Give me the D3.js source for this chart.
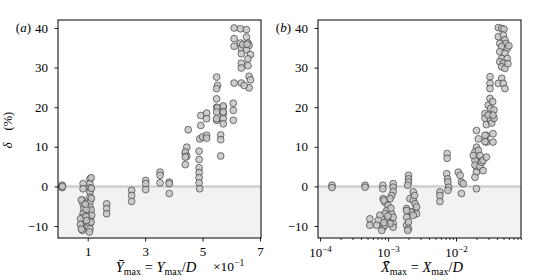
<!DOCTYPE html>
<html><head><meta charset="utf-8">
<script src="https://cdn.jsdelivr.net/npm/d3@7/dist/d3.min.js"></script>
<style>
html,body{margin:0;padding:0;background:#fff;}
svg text{font-family:"Liberation Serif","DejaVu Serif",serif;fill:#000;}
</style></head>
<body>
<svg id="chart" width="533" height="280"></svg>
<script>
// ---- data: panel (a)  Ybar_max vs delta (%)
const ybarA = [
 0.011,0.011,0.012,
 0.084,0.084,0.082,0.084,0.086,0.084,0.084,0.082,0.080,0.082,
 0.075,0.075,0.078,0.078,
 0.108,0.108,0.108,0.108,0.108,0.108,0.108,0.106,0.108,0.108,0.108,0.106,
 0.112,0.113,0.113,0.112,0.114,0.112,
 0.095,0.094,0.096,0.092,
 0.166,0.166,0.166,
 0.253,0.253,0.253,
 0.302,0.302,0.302,
 0.352,0.352,0.352,
 0.384,0.384,0.384,
 0.440,0.445,0.440,0.445,0.440,0.450,0.440,
 0.488,0.488,0.488,0.488,0.488,0.488,0.490,0.494,0.494,0.490,
 0.500,
 0.514,0.514,0.514,0.514,
 0.549,0.552,0.549,0.549,0.549,0.552,0.549,0.549,0.549,
 0.563,0.563,0.563,
 0.572,0.572,0.572,0.572,0.572,0.572,
 0.607,0.607,0.607,
 0.610,0.632,0.653,0.653,0.610,0.632,0.658,0.662,0.610,0.635,0.653,0.635,0.667,0.658,0.635,0.658,0.635,0.662,0.667,0.610,0.635,0.662,0.640,0.655,0.645
];
const deltaA = [
 0.3,-0.3,0.0,
 0.7,-0.6,-3.5,-4.4,-5.6,-6.9,-7.8,-9.4,-10.3,-11.1,
 -8.2,-9.6,-3.4,-10.8,
 1.9,0.7,-0.4,-1.4,-2.7,-4.0,-5.2,-6.5,-8.2,-9.4,-10.7,-11.5,
 2.2,-0.5,-3.0,-6.0,-7.3,-9.0,
 -5.8,-7.6,-8.6,-4.5,
 -4.4,-5.6,-6.9,
 -1.0,-2.3,-3.8,
 1.5,0.7,-0.8,
 3.6,2.8,0.9,
 1.1,0.7,-1.8,
 8.3,9.9,8.7,7.6,5.5,14.3,7.4,
 8.9,6.8,4.7,3.5,2.2,0.9,-0.6,15.4,17.9,12.0,
 12.5,
 12.9,12.2,18.5,17.1,
 27.6,25.5,24.7,22.1,20.0,19.8,18.8,16.7,17.1,
 13.0,11.8,7.7,
 20.0,18.4,17.1,15.8,20.3,18.8,
 21.0,19.2,16.7,
 40.0,39.8,39.6,37.7,37.3,36.2,36.2,35.6,35.4,34.8,34.5,33.5,33.3,32.2,31.1,30.5,29.9,27.8,26.9,26.1,26.1,24.9,35.8,35.9,25.5
];
// ---- data: panel (b)  Xbar_max vs delta (%)
const xbarB = [
 1.5e-4,1.5e-4,
 4.6e-4,4.6e-4,
 8.4e-4,8.4e-4,
 1.19e-3,1.19e-3,1.19e-3,1.13e-3,1.07e-3,8.5e-4,9.0e-4,1.0e-3,9.6e-4,9.0e-4,1.13e-3,
 1.19e-3,1.19e-3,1.19e-3,9.6e-4,7.6e-4,7.2e-4,6.8e-4,8.5e-4,8.1e-4,5.4e-4,5.4e-4,1.07e-3,9.0e-4,
 8.7e-4,1.1e-3,1.0e-3,8.7e-4,
 2.0e-3,2.0e-3,2.0e-3,1.95e-3,
 2.1e-3,2.35e-3,2.5e-3,2.5e-3,2.63e-3,2.63e-3,2.2e-3,
 1.88e-3,1.88e-3,1.88e-3,1.88e-3,2.0e-3,2.0e-3,1.95e-3,2.35e-3,2.35e-3,2.45e-3,
 5.8e-3,5.8e-3,5.8e-3,
 7.4e-3,7.4e-3,7.3e-3,7.5e-3,7.6e-3,7.8e-3,7.6e-3,
 1.08e-2,1.15e-2,1.2e-2,1.2e-2,1.28e-2,
 2.0e-2,2.0e-2,2.0e-2,2.0e-2,2.0e-2,2.0e-2,
 1.9e-2,1.9e-2,1.9e-2,1.9e-2,
 2.13e-2,2.13e-2,1.8e-2,2.25e-2,2.25e-2,2.4e-2,2.5e-2,2.5e-2,
 2.8e-2,2.8e-2,2.8e-2,3.5e-2,3.5e-2,
 2.67e-2,2.67e-2,2.67e-2,2.67e-2,2.8e-2,2.98e-2,2.98e-2,
 3.16e-2,3.16e-2,3.16e-2,3.16e-2,3.24e-2,3.24e-2,3.35e-2,3.46e-2,3.62e-2,3.62e-2,3.5e-2,
 0.042,0.047,0.0508,0.042,0.0496,0.0525,0.044,0.054,0.047,0.0567,0.044,0.0525,0.047,0.0567,0.044,0.0496,0.047,0.0525,0.047,0.042,0.0496,0.0525,0.060,0.058
];
const deltaB = [
 0.3,-0.3,
 0.3,-0.2,
 0.3,-0.6,
 0.7,-0.2,-1.3,-2.3,-3.1,-3.1,-4.0,-4.8,-6.1,-6.9,-6.9,
 -7.8,-9.4,-10.3,-8.6,-7.3,-8.6,-9.8,-10.3,-11.1,-8.2,-9.8,-9.4,-9.8,
 -3.5,-5.5,-7.5,-9.2,
 2.8,1.9,1.1,0.3,
 -3.1,-3.5,-4.4,-6.1,-5.2,-6.9,-6.5,
 -5.6,-6.1,-7.8,-9.8,-9.0,-10.7,-11.1,-7.3,-1.4,-2.3,
 -1.4,-2.3,-3.8,
 8.3,7.1,3.2,1.9,1.1,-0.2,-1.0,
 3.6,2.8,1.1,-1.8,0.7,
 14.1,9.9,7.4,4.9,3.6,-0.6,
 8.7,6.6,2.3,5.4,
 12.0,9.1,7.8,7.8,5.0,6.1,4.0,6.6,
 12.9,11.2,7.4,13.3,11.2,
 18.4,17.2,12.9,11.3,15.6,20.5,18.0,
 22.2,27.7,26.0,24.7,19.7,16.7,16.0,21.4,19.3,17.2,18.0,
 40.1,39.9,39.7,37.8,38.2,37.0,36.1,36.1,35.3,34.8,34.0,33.6,32.3,32.3,31.5,31.1,30.2,29.8,27.3,26.0,26.0,24.7,35.5,31.0
];
const yTicks = [-10, 0, 10, 20, 30, 40];
const xTicksA = [0.1, 0.3, 0.5, 0.7];
const xTickLabelsA = ["1", "3", "5", "7"];
const xTicksB = [1e-4, 1e-3, 1e-2];
const xTickExpB = ["−4", "−3", "−2"];

// ---- layout
const svg = d3.select("#chart");
const plotTop = 20, plotBottom = 238;
const panels = [
  {x0: 58, x1: 261, tag: "a"},
  {x0: 318, x1: 521, tag: "b"}
];
const y = d3.scaleLinear().domain([-13.03, 42.02]).range([plotBottom, plotTop]);
const xA = d3.scaleLinear().domain([-0.0034, 0.7035]).range([panels[0].x0, panels[0].x1]);
const xB = d3.scaleLog().domain([Math.pow(10, -4.03), Math.pow(10, -1.044)]).range([panels[1].x0, panels[1].x1]);
const fmtY = d => d < 0 ? "−" + Math.abs(d) : String(d);

function drawPanel(p, x, xs, ds) {
  const g = svg.append("g");
  const w = p.x1 - p.x0;
  g.append("rect").attr("x", p.x0).attr("y", y(0)).attr("width", w).attr("height", plotBottom - y(0))
    .attr("fill", "#f2f2f2");
  g.append("line").attr("x1", p.x0).attr("x2", p.x1).attr("y1", y(0)).attr("y2", y(0))
    .attr("stroke", "#cfcfcf").attr("stroke-width", 2.5);
  const pts = xs.map((v, i) => [v, ds[i]]);
  g.append("g").selectAll("circle").data(pts).join("circle")
    .attr("cx", d => x(d[0])).attr("cy", d => y(d[1])).attr("r", 3.4)
    .attr("fill", "#c6c6c6").attr("fill-opacity", 0.85)
    .attr("stroke", "#2e2e2e").attr("stroke-width", 0.75).attr("stroke-opacity", 0.85);
  g.append("rect").attr("x", p.x0).attr("y", plotTop).attr("width", w).attr("height", plotBottom - plotTop)
    .attr("fill", "none").attr("stroke", "#000").attr("stroke-width", 1);
  const ya = g.append("g").attr("transform", `translate(${p.x0},0)`)
    .call(d3.axisLeft(y).tickValues(yTicks).tickSize(3.5).tickPadding(6.5).tickFormat(fmtY));
  ya.select(".domain").remove();
  ya.selectAll("text").attr("font-size", 13).attr("font-family", "Liberation Serif");
  ya.selectAll("line").attr("stroke-width", 0.9);
  const tg = g.append("text").attr("x", p.x0 - 27).attr("y", y(40) + 4.5).attr("font-size", 13)
    .attr("text-anchor", "end");
  tg.append("tspan").text("(");
  tg.append("tspan").attr("font-style", "italic").text(p.tag);
  tg.append("tspan").text(")");
  return g;
}

// Panel (a)
const gA = drawPanel(panels[0], xA, ybarA, deltaA);
const xaA = gA.append("g").attr("transform", `translate(0,${plotBottom})`)
  .call(d3.axisBottom(xA).tickValues(xTicksA).tickSize(3.5).tickPadding(5.5)
    .tickFormat((d, i) => xTickLabelsA[i]));
xaA.select(".domain").remove();
xaA.selectAll("text").attr("font-size", 13).attr("font-family", "Liberation Serif");
xaA.selectAll("line").attr("stroke-width", 0.9);

// Panel (b)
const gB = drawPanel(panels[1], xB, xbarB, deltaB);
const minorB = [];
[-4, -3, -2].forEach(e => { for (let m = 2; m <= 9; m++) minorB.push(m * Math.pow(10, e)); });
const xmB = gB.append("g").attr("transform", `translate(0,${plotBottom})`)
  .call(d3.axisBottom(xB).tickValues(minorB.filter(v => v <= xB.domain()[1])).tickSize(2).tickFormat(""));
xmB.select(".domain").remove();
xmB.selectAll("line").attr("stroke-width", 0.8);
const xaB = gB.append("g").attr("transform", `translate(0,${plotBottom})`)
  .call(d3.axisBottom(xB).tickValues(xTicksB).tickSize(3.5).tickPadding(6).tickFormat(""));
xaB.select(".domain").remove();
xaB.selectAll("line").attr("stroke-width", 0.9);
xaB.selectAll(".tick text").each(function(d, i) {
  const t = d3.select(this).attr("font-size", 13).attr("font-family", "Liberation Serif");
  t.append("tspan").text("10");
  t.append("tspan").attr("font-size", 9).attr("dy", "-0.55em").text(xTickExpB[i]);
});

// y label
const yl = svg.append("text").attr("transform", "translate(12,130) rotate(-90)")
  .attr("text-anchor", "middle").attr("font-size", 12.5);
yl.append("tspan").attr("font-style", "italic").text("δ");
yl.append("tspan").attr("dx", 12).text("(%)");

// x labels with math
function mathLabel(cx, base, letter, barChar) {
  const t = svg.append("text").attr("x", cx).attr("y", base).attr("text-anchor", "middle").attr("font-size", 14.5);
  t.append("tspan").attr("font-style", "italic").text(barChar);
  t.append("tspan").attr("font-size", 10).attr("dy", 3).text("max");
  t.append("tspan").attr("dy", -3).text(" = ");
  t.append("tspan").attr("font-style", "italic").text(letter);
  t.append("tspan").attr("font-size", 10).attr("dy", 3).text("max");
  t.append("tspan").attr("dy", -3).text("/");
  t.append("tspan").attr("font-style", "italic").text("D");
  return t;
}
mathLabel(156, 272, "Y", "Ȳ");
mathLabel(422, 272, "X", "X\u0304");
const sc = svg.append("text").attr("x", 213).attr("y", 271).attr("font-size", 13.5);
sc.append("tspan").text("×10");
sc.append("tspan").attr("font-size", 9.5).attr("dy", "-0.55em").text("−1");
</script>
</body></html>
